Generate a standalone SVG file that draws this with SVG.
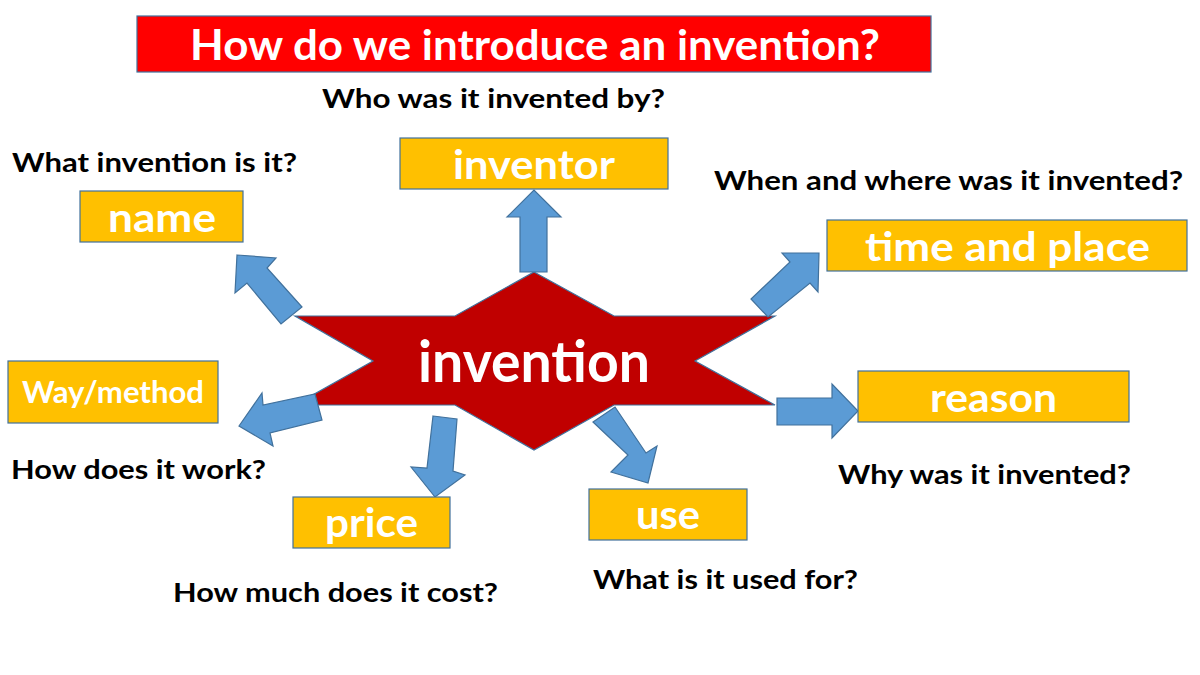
<svg xmlns="http://www.w3.org/2000/svg" width="1200" height="675" viewBox="0 0 1200 675">
<style>
.box{fill:#FFC000;stroke:#41719C;stroke-width:1.2}
.lbl{fill:#FFFFFF;font-family:Lato,"Open Sans","Liberation Sans",sans-serif;font-weight:bold}
.q{fill:#000000;font-family:Lato,"Open Sans","Liberation Sans",sans-serif;font-weight:bold;font-size:26px}
.arr{fill:#5B9BD5;stroke:#41719C;stroke-width:1.2;stroke-linejoin:miter}
</style>
<rect width="1200" height="675" fill="#FFFFFF"/>
<g id="title">
<rect x="137" y="16" width="794" height="56" fill="#FF0000" stroke="#41719C" stroke-width="1.2"/>
<text class="lbl" x="190" y="60" font-size="42" textLength="690" lengthAdjust="spacingAndGlyphs">How do we introduce an invention?</text>
</g>
<g id="invention">
<polygon points="534,272 614,316 775,316 695,361 775,405 614,405 534,450 455,405 295,405 373,361 295,316 455,316" fill="#C00000" stroke="#41719C" stroke-width="1.2"/>
<text class="lbl" x="418" y="382" font-size="58" textLength="232" lengthAdjust="spacingAndGlyphs">invention</text>
</g>
<g id="connectors">
<polygon class="arr" points="520,272 520,217 507,217 534,190 561,217 547,217 547,272"/>
<polygon class="arr" points="237,255 276,258 267,268 302,307 281,324 247,283 235,293"/>
<polygon class="arr" points="819,253 818,292 810,283 768,317 751,299 790,262 782,253"/>
<polygon class="arr" points="777,398 832,398 832,384 858,411 832,438 832,425 777,425"/>
<polygon class="arr" points="239,426 262,393 263,405 315,394 322,420 270,433 273,446"/>
<polygon class="arr" points="433,416 457,419 453,471 465,475 435,497 411,467 427,468"/>
<polygon class="arr" points="593,422 615,407 646,453 657,446 648,483 611,472 628,455"/>
</g>
<g id="inventor">
<rect class="box" x="400" y="138" width="268" height="51"/>
<text class="lbl" x="453" y="179" font-size="40" textLength="162" lengthAdjust="spacingAndGlyphs">inventor</text>
<text class="q" x="322" y="108" textLength="343" lengthAdjust="spacingAndGlyphs">Who was it invented by?</text>
</g>
<g id="name">
<rect class="box" x="80" y="191" width="163" height="51"/>
<text class="lbl" x="108" y="232" font-size="40" textLength="108" lengthAdjust="spacingAndGlyphs">name</text>
<text class="q" x="12" y="172" textLength="285" lengthAdjust="spacingAndGlyphs">What invention is it?</text>
</g>
<g id="time-and-place">
<rect class="box" x="827" y="220" width="360" height="51"/>
<text class="lbl" x="865" y="261" font-size="40" textLength="285" lengthAdjust="spacingAndGlyphs">time and place</text>
<text class="q" x="714" y="190" textLength="469" lengthAdjust="spacingAndGlyphs">When and where was it invented?</text>
</g>
<g id="reason">
<rect class="box" x="858" y="371" width="271" height="51"/>
<text class="lbl" x="930" y="412" font-size="40" textLength="127" lengthAdjust="spacingAndGlyphs">reason</text>
<text class="q" x="838" y="484" textLength="293" lengthAdjust="spacingAndGlyphs">Why was it invented?</text>
</g>
<g id="way-method">
<rect class="box" x="8" y="361" width="210" height="62"/>
<text class="lbl" x="22" y="403" font-size="30" textLength="182" lengthAdjust="spacingAndGlyphs">Way/method</text>
<text class="q" x="11" y="479" textLength="255" lengthAdjust="spacingAndGlyphs">How does it work?</text>
</g>
<g id="price">
<rect class="box" x="293" y="497" width="157" height="51"/>
<text class="lbl" x="325" y="537" font-size="40" textLength="93" lengthAdjust="spacingAndGlyphs">price</text>
<text class="q" x="173" y="602" textLength="325" lengthAdjust="spacingAndGlyphs">How much does it cost?</text>
</g>
<g id="use">
<rect class="box" x="589" y="489" width="158" height="51"/>
<text class="lbl" x="636" y="529" font-size="40" textLength="64" lengthAdjust="spacingAndGlyphs">use</text>
<text class="q" x="593" y="589" textLength="265" lengthAdjust="spacingAndGlyphs">What is it used for?</text>
</g>
</svg>
